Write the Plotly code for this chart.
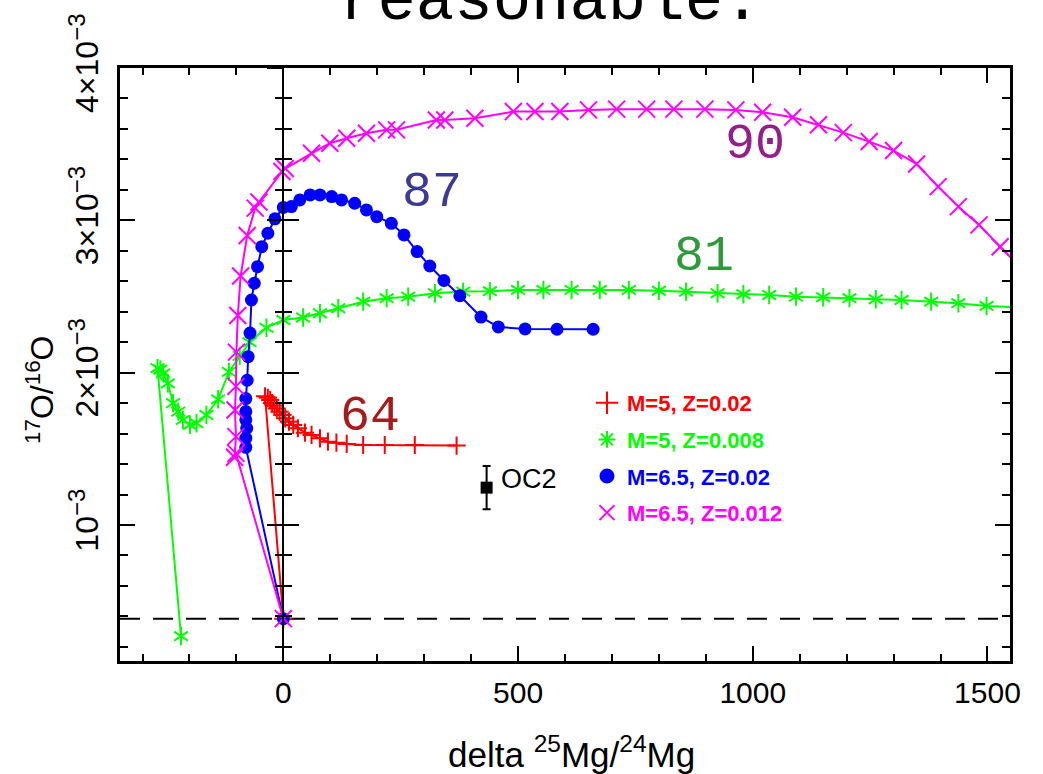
import plotly.graph_objects as go

# ---------------- data (y values in units of 1e-3) ----------------
E3 = 1e-3
XRANGE = [-348, 1548]
YRANGE = [0.107 * E3, 4.0 * E3]
SOLAR_17O16O = 0.385 * E3

red_x = [0, -39, -33, -28, -24, -19, -14, -8, -2, 4, 12, 21, 31, 46, 60, 78, 95, 113, 135, 170, 216, 280, 369]
red_y = [0.385, 1.845, 1.835, 1.82, 1.80, 1.785, 1.765, 1.744, 1.722, 1.70, 1.678, 1.657, 1.635, 1.606, 1.591,
         1.569, 1.547, 1.540, 1.532, 1.525, 1.525, 1.525, 1.521]

green_x = [-218, -268, -262, -256, -246, -235, -224, -214, -199, -185, -164, -139, -116, -93, -72, -36, 0, 42, 78,
           117, 170, 220, 266, 323, 383, 440, 500, 554, 614, 674, 736, 800, 858, 925, 980, 1035, 1092, 1150, 1206,
           1262, 1317, 1380, 1438, 1498, 1570]
green_y = [0.27, 2.03, 2.02, 1.995, 1.93, 1.80, 1.744, 1.69, 1.657, 1.668, 1.722, 1.825, 2.005, 2.11, 2.20, 2.295,
           2.346, 2.362, 2.39, 2.423, 2.466, 2.489, 2.499, 2.521, 2.532, 2.535, 2.543, 2.543, 2.543, 2.543, 2.543,
           2.538, 2.532, 2.521, 2.515, 2.51, 2.499, 2.495, 2.489, 2.482, 2.477, 2.466, 2.456, 2.438, 2.428]

blue_x = [0, -80, -80, -78, -80, -80, -80, -77, -75, -71, -68, -62, -55, -46, -33, -18, 0, 17, 35, 57, 78, 103, 124,
          152, 177, 199, 230, 257, 285, 312, 342, 376, 421, 458, 515, 583, 660]
blue_y = [0.385, 1.51, 1.57, 1.635, 1.69, 1.745, 1.83, 1.95, 2.105, 2.26, 2.477, 2.587, 2.696, 2.827, 2.915, 3.01,
          3.085, 3.09, 3.134, 3.167, 3.167, 3.156, 3.134, 3.112, 3.068, 3.024, 2.98, 2.904, 2.795, 2.70, 2.605,
          2.505, 2.365, 2.30, 2.287, 2.285, 2.285]

mag_x = [0, -101, -104, -101, -103, -101, -100, -97, -91, -77, -60, -52, -3, 4, 60, 99, 135, 177, 220, 241, 326, 344,
         408, 490, 536, 589, 650, 710, 774, 832, 898, 964, 1021, 1085, 1140, 1193, 1248, 1300, 1349, 1395, 1438,
         1482, 1527, 1570]
mag_y = [0.385, 1.47, 1.445, 1.58, 1.755, 1.91, 2.135, 2.375, 2.635, 2.90, 3.08, 3.12, 3.32, 3.34, 3.44, 3.506,
         3.539, 3.572, 3.594, 3.594, 3.659, 3.659, 3.67, 3.714, 3.714, 3.714, 3.725, 3.73, 3.73, 3.73, 3.73, 3.725,
         3.71, 3.677, 3.627, 3.576, 3.517, 3.458, 3.37, 3.221, 3.09, 2.97, 2.827, 2.69]

oc2_x = [433]
oc2_y = [1.245]
oc2_err = [0.142]

legend_labels = ["M=5, Z=0.02", "M=5, Z=0.008", "M=6.5, Z=0.02", "M=6.5, Z=0.012"]
y_tickvals = [1, 2, 3, 4]
SUP = "<sup><span style='font-size:24px'>\u22123</span></sup>"
y_ticktext = ["10" + SUP, "2\u00d710" + SUP, "3\u00d710" + SUP, "4\u00d710" + SUP]
x_tickvals = [0, 500, 1000, 1500]


def sc(v):
    return [a * E3 for a in v]


RED, GREEN, BLUE, MAG = "#ff0000", "#00ff00", "#0000ff", "#ff00ff"
SANS = "Liberation Sans"
MONO = "Liberation Mono"

fig = go.Figure()

# data traces
fig.add_trace(go.Scatter(x=red_x, y=sc(red_y), mode="lines+markers", showlegend=False,
                         line=dict(color=RED, width=2),
                         marker=dict(symbol="cross-thin", size=13, line=dict(color=RED, width=2))))
fig.add_trace(go.Scatter(x=green_x, y=sc(green_y), mode="lines+markers", showlegend=False,
                         line=dict(color=GREEN, width=2),
                         marker=dict(symbol="y-up", size=11.5, line=dict(color=GREEN, width=2))))
fig.add_trace(go.Scatter(x=green_x, y=sc(green_y), mode="markers", showlegend=False,
                         marker=dict(symbol="y-down", size=11.5, line=dict(color=GREEN, width=2))))
fig.add_trace(go.Scatter(x=blue_x, y=sc(blue_y), mode="lines+markers", showlegend=False,
                         line=dict(color=BLUE, width=2),
                         marker=dict(symbol="circle", size=13, color=BLUE)))
fig.add_trace(go.Scatter(x=mag_x, y=sc(mag_y), mode="lines+markers", showlegend=False,
                         line=dict(color=MAG, width=2),
                         marker=dict(symbol="x-thin", size=17, line=dict(color=MAG, width=2))))

# OC2 grain
fig.add_trace(go.Scatter(x=oc2_x, y=sc(oc2_y), mode="markers", showlegend=False,
                         marker=dict(symbol="square", size=12, color="black"),
                         error_y=dict(type="data", array=sc(oc2_err), color="black", thickness=2, width=4)))

# legend entries (symbols only)
leg_specs = [(RED, "cross-thin", 16), (GREEN, "asterisk", 14), (BLUE, "circle", 13), (MAG, "x-thin", 15)]
for i, (lab, (col, sym, sz)) in enumerate(zip(legend_labels, leg_specs)):
    mk = dict(symbol=sym, size=sz, color=col, line=dict(color=col, width=2))
    fig.add_trace(go.Scatter(x=[None], y=[None], mode="markers",
                             name=f"<span style='color:{col}'><b>{lab}</b></span>",
                             marker=mk, legendgroup=f"g{i}", showlegend=True))

# dummy traces so the zero-axis overlays are rendered
fig.add_trace(go.Scatter(x=[None], y=[None], yaxis="y2", showlegend=False, hoverinfo="skip"))
fig.add_trace(go.Scatter(x=[None], y=[None], yaxis="y3", showlegend=False, hoverinfo="skip"))

zero_pos = (0 - XRANGE[0]) / (XRANGE[1] - XRANGE[0])
ymajor = sc(y_tickvals)

common_zero = dict(overlaying="y", anchor="free", position=zero_pos, range=YRANGE, showline=True,
                   linecolor="black", linewidth=2, showgrid=False, zeroline=False, showticklabels=False,
                   tickmode="array", tickvals=ymajor, ticklen=15, tickwidth=2, tickcolor="black")

fig.update_layout(
    width=1043, height=774,
    margin=dict(l=120, r=33, t=68, b=113),
    plot_bgcolor="white", paper_bgcolor="white",
    font=dict(family=SANS, color="black"),
    xaxis=dict(range=XRANGE, showline=True, linecolor="black", linewidth=2.5, mirror="ticks",
               ticks="inside", ticklen=15, tickwidth=2, tickcolor="black",
               tickmode="array", tickvals=x_tickvals,
               minor=dict(tickmode="linear", tick0=0, dtick=100, ticks="inside", ticklen=7, tickwidth=2,
                          tickcolor="black", showgrid=False),
               showgrid=False, zeroline=False, tickfont=dict(size=30, family=SANS),
               ticklabelstandoff=3),
    yaxis=dict(range=YRANGE, showline=True, linecolor="black", linewidth=2.5, mirror="ticks",
               ticks="inside", ticklen=15, tickwidth=2, tickcolor="black",
               tickmode="array", tickvals=ymajor, ticktext=y_ticktext, tickangle=-90,
               minor=dict(tickmode="linear", tick0=0, dtick=0.2 * E3, ticks="inside", ticklen=8, tickwidth=2,
                          tickcolor="black", showgrid=False),
               showgrid=False, zeroline=False, tickfont=dict(size=32, family=SANS),
               ticklabelstandoff=6),
    yaxis2=dict(**common_zero, ticks="inside",
                minor=dict(tickmode="linear", tick0=0, dtick=0.2 * E3, ticks="inside", ticklen=7.5,
                           tickwidth=2, tickcolor="black", showgrid=False)),
    yaxis3=dict(**common_zero, ticks="outside",
                minor=dict(tickmode="linear", tick0=0, dtick=0.2 * E3, ticks="outside", ticklen=7.5,
                           tickwidth=2, tickcolor="black", showgrid=False)),
    legend=dict(x=0.5247, y=0.4705, xanchor="left", yanchor="top", bgcolor="rgba(0,0,0,0)",
                font=dict(family=SANS, size=22), traceorder="grouped", tracegroupgap=5),
    shapes=[dict(type="line", xref="paper", x0=0, x1=1, yref="y", y0=SOLAR_17O16O, y1=SOLAR_17O16O,
                 line=dict(color="black", width=2, dash="20px,13px"), layer="below")],
)

# axis titles as annotations (placed like the reference)
fig.add_annotation(x=0.507, y=-0.1535, xref="paper", yref="paper", showarrow=False,
                   text="delta <sup>25</sup>Mg/<sup>24</sup>Mg", xanchor="center", yanchor="middle",
                   font=dict(family=SANS, size=35, color="black"))
fig.add_annotation(x=-0.0899, y=0.457, xref="paper", yref="paper", showarrow=False, textangle=-90,
                   text="<sup>17</sup>O/<sup>16</sup>O", xanchor="center", yanchor="middle",
                   font=dict(family=SANS, size=32, color="black"))

# curve labels
labels = [("64", 185, 1.711, "#a51c1c"), ("87", 316, 3.18, "#3b3b96"),
          ("81", 896, 2.76, "#2e9b3a"), ("90", 1005, 3.495, "#921f8a")]
for txt, lx, ly, col in labels:
    fig.add_annotation(x=lx, y=ly * E3, text=txt, showarrow=False, xanchor="center", yanchor="middle",
                       font=dict(family=MONO, size=50, color=col))

fig.add_annotation(x=oc2_x[0], y=oc2_y[0] * E3 + 0.057 * E3, text="OC2", showarrow=False, xanchor="left",
                   yanchor="middle", xshift=12, font=dict(family=SANS, size=27, color="black"))

# title (cut off at top as in the reference)
fig.add_annotation(x=0.483, y=1.047, xref="paper", yref="paper", text="reasonable.", showarrow=False,
                   xanchor="center", yanchor="bottom", font=dict(family=MONO, size=64, color="black"))

fig.write_html("out.html", config={"displayModeBar": False})
